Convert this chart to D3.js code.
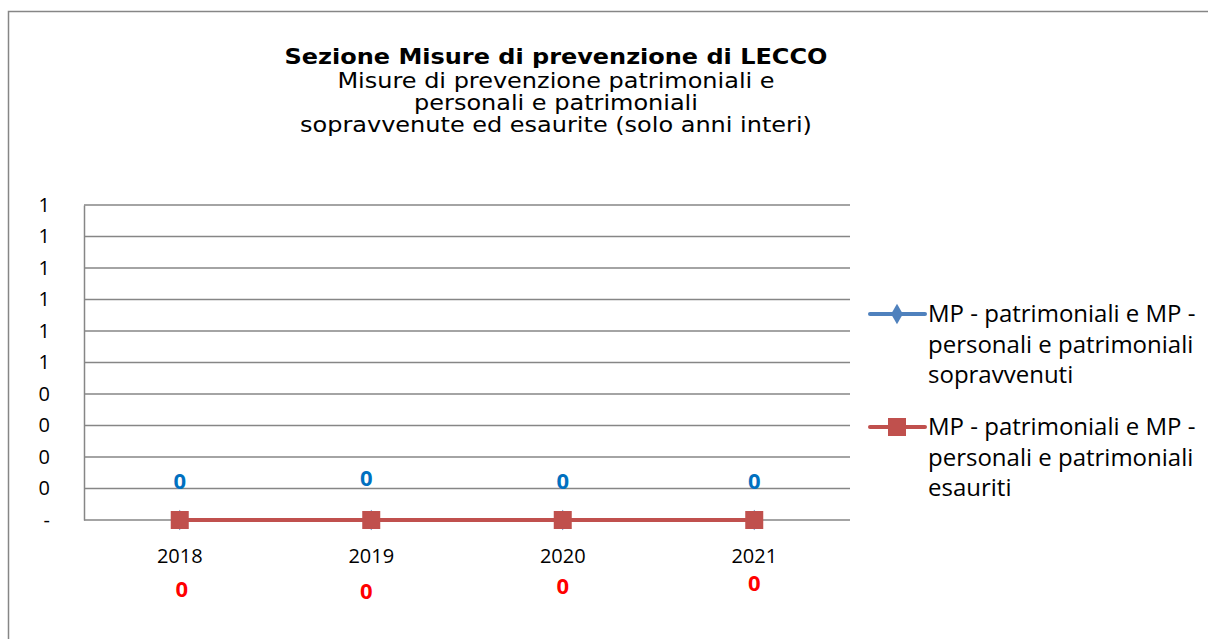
<!DOCTYPE html>
<html>
<head>
<meta charset="utf-8">
<script src="https://cdn.jsdelivr.net/npm/d3@7"></script>
<style>
  body { margin: 0; background: #fff; }
  svg { display: block; }
</style>
</head>
<body>
<div id="chart"></div>
<script>
// data
const years = ['2018', '2019', '2020', '2021'];
const sopravvenuti = [0, 0, 0, 0];
const esauriti = [0, 0, 0, 0];
const yTicks = [0, 0.1, 0.2, 0.3, 0.4, 0.5, 0.6, 0.7, 0.8, 0.9, 1];
const titleMain = 'Sezione Misure di prevenzione di LECCO';
const titleLines = [
    'Misure di prevenzione patrimoniali e',
    'personali e patrimoniali',
    'sopravvenute ed esaurite (solo anni interi)'
];
const seriesNames = [
    ['MP - patrimoniali e MP -', 'personali e patrimoniali', 'sopravvenuti'],
    ['MP - patrimoniali e MP -', 'personali e patrimoniali', 'esauriti']
];

const W = 1208, H = 639;
const plot = { left: 84, top: 205, right: 850, bottom: 520 };
const blue = '#4F81BD', red = '#C0504D';
const gridColor = '#868686';
const labelFont = '"Open Sans", "Liberation Sans", sans-serif';
const titleFont = '"DejaVu Sans", sans-serif';
const titleStretch = 1.17; // the title font of the original is wide and short

// small nudges of the data labels, as Excel placed them
const blueNudge = [[0, 0], [-5, -3], [0, 0], [0, 0]];
const redNudge = [[2, 0], [-5, 2], [0, -3], [0, -6]];

const svg = d3.select('#chart').append('svg')
    .attr('width', W)
    .attr('height', H);

// outer chart frame (runs off the right and bottom edges)
svg.append('rect')
    .attr('x', 8.5).attr('y', 11.5)
    .attr('width', W + 20).attr('height', H + 20)
    .attr('fill', '#fff')
    .attr('stroke', gridColor)
    .attr('stroke-width', 1.5);

// titles
svg.append('text')
    .attr('transform', `translate(556,64) scale(${titleStretch},1)`)
    .attr('text-anchor', 'middle')
    .attr('font-family', titleFont)
    .attr('font-weight', 'bold')
    .attr('font-size', 20.5)
    .text(titleMain);

svg.selectAll('.subtitle')
    .data(titleLines)
    .enter()
    .append('text')
    .attr('class', 'subtitle')
    .attr('transform', (d, i) => `translate(556,${88 + i * 22}) scale(${titleStretch},1)`)
    .attr('text-anchor', 'middle')
    .attr('font-family', titleFont)
    .attr('font-size', 20.5)
    .text(d => d);

const x = d3.scaleBand()
    .domain(years)
    .range([plot.left, plot.right]);

const y = d3.scaleLinear()
    .domain([0, 1])
    .range([plot.bottom, plot.top]);

const cx = d => x(d) + x.bandwidth() / 2;

// horizontal gridlines
svg.append('g')
    .selectAll('line')
    .data(yTicks)
    .enter()
    .append('line')
    .attr('x1', plot.left).attr('x2', plot.right)
    .attr('y1', d => y(d)).attr('y2', d => y(d))
    .attr('stroke', gridColor)
    .attr('stroke-width', 1.5);

// y axis
const yAxis = svg.append('g')
    .attr('transform', `translate(${plot.left},0)`)
    .call(d3.axisLeft(y)
        .tickValues(yTicks)
        .tickSize(0)
        .tickPadding(34)
        .tickFormat(d => d === 0 ? '-' : Math.round(d)));
yAxis.select('.domain')
    .attr('stroke', gridColor)
    .attr('stroke-width', 1.5);
yAxis.selectAll('text')
    .attr('font-family', labelFont)
    .attr('font-size', 20)
    .attr('fill', '#000');

// x axis
const xAxis = svg.append('g')
    .attr('transform', `translate(0,${plot.bottom})`)
    .call(d3.axisBottom(x).tickSize(0).tickPadding(29));
xAxis.select('.domain').remove();
xAxis.selectAll('text')
    .attr('font-family', labelFont)
    .attr('font-size', 20)
    .attr('fill', '#000');

const line = d3.line()
    .x((d, i) => cx(years[i]))
    .y(d => y(d));

// blue series (hidden under the red one)
svg.append('path')
    .datum(sopravvenuti)
    .attr('fill', 'none')
    .attr('stroke', blue)
    .attr('stroke-width', 4)
    .attr('d', line);

const diamond = d3.symbol().type(d3.symbolDiamond).size(120);
svg.selectAll('.dot-blue')
    .data(sopravvenuti)
    .enter()
    .append('path')
    .attr('class', 'dot-blue')
    .attr('transform', (d, i) => `translate(${cx(years[i])},${y(d)})`)
    .attr('d', diamond)
    .attr('fill', blue);

// red series
svg.append('path')
    .datum(esauriti)
    .attr('fill', 'none')
    .attr('stroke', red)
    .attr('stroke-width', 4)
    .attr('d', line);

svg.selectAll('.dot-red')
    .data(esauriti)
    .enter()
    .append('rect')
    .attr('class', 'dot-red')
    .attr('x', (d, i) => cx(years[i]) - 9)
    .attr('y', d => y(d) - 9)
    .attr('width', 18)
    .attr('height', 18)
    .attr('fill', red);

// data labels
svg.selectAll('.lbl-blue')
    .data(sopravvenuti)
    .enter()
    .append('text')
    .attr('class', 'lbl-blue')
    .attr('x', (d, i) => cx(years[i]) + blueNudge[i][0])
    .attr('y', (d, i) => y(d) - 31 + blueNudge[i][1])
    .attr('text-anchor', 'middle')
    .attr('font-family', labelFont)
    .attr('font-weight', 'bold')
    .attr('font-size', 22)
    .attr('fill', '#0070C0')
    .text(d => d);

svg.selectAll('.lbl-red')
    .data(esauriti)
    .enter()
    .append('text')
    .attr('class', 'lbl-red')
    .attr('x', (d, i) => cx(years[i]) + redNudge[i][0])
    .attr('y', (d, i) => y(d) + 77 + redNudge[i][1])
    .attr('text-anchor', 'middle')
    .attr('font-family', labelFont)
    .attr('font-weight', 'bold')
    .attr('font-size', 22)
    .attr('fill', '#FF0000')
    .text(d => d);

// legend
const legend = svg.append('g')
    .selectAll('g')
    .data([
        { color: blue, marker: 'diamond', lines: seriesNames[0] },
        { color: red, marker: 'square', lines: seriesNames[1] }
    ])
    .enter()
    .append('g')
    .attr('transform', (d, i) => `translate(0,${314 + i * 113})`);

legend.append('line')
    .attr('x1', 870).attr('x2', 925)
    .attr('y1', 0).attr('y2', 0)
    .attr('stroke', d => d.color)
    .attr('stroke-width', 4)
    .attr('stroke-linecap', 'round');

legend.filter(d => d.marker === 'diamond')
    .append('path')
    .attr('transform', 'translate(897,0)')
    .attr('d', diamond)
    .attr('fill', d => d.color);

legend.filter(d => d.marker === 'square')
    .append('rect')
    .attr('x', 888).attr('y', -9)
    .attr('width', 18).attr('height', 18)
    .attr('fill', d => d.color);

legend.selectAll('text')
    .data(d => d.lines)
    .enter()
    .append('text')
    .attr('x', 928)
    .attr('y', (d, i) => i * 30.5)
    .attr('dy', '0.35em')
    .attr('font-family', labelFont)
    .attr('font-size', 24)
    .attr('fill', '#000')
    .text(d => d);
</script>
</body>
</html>
